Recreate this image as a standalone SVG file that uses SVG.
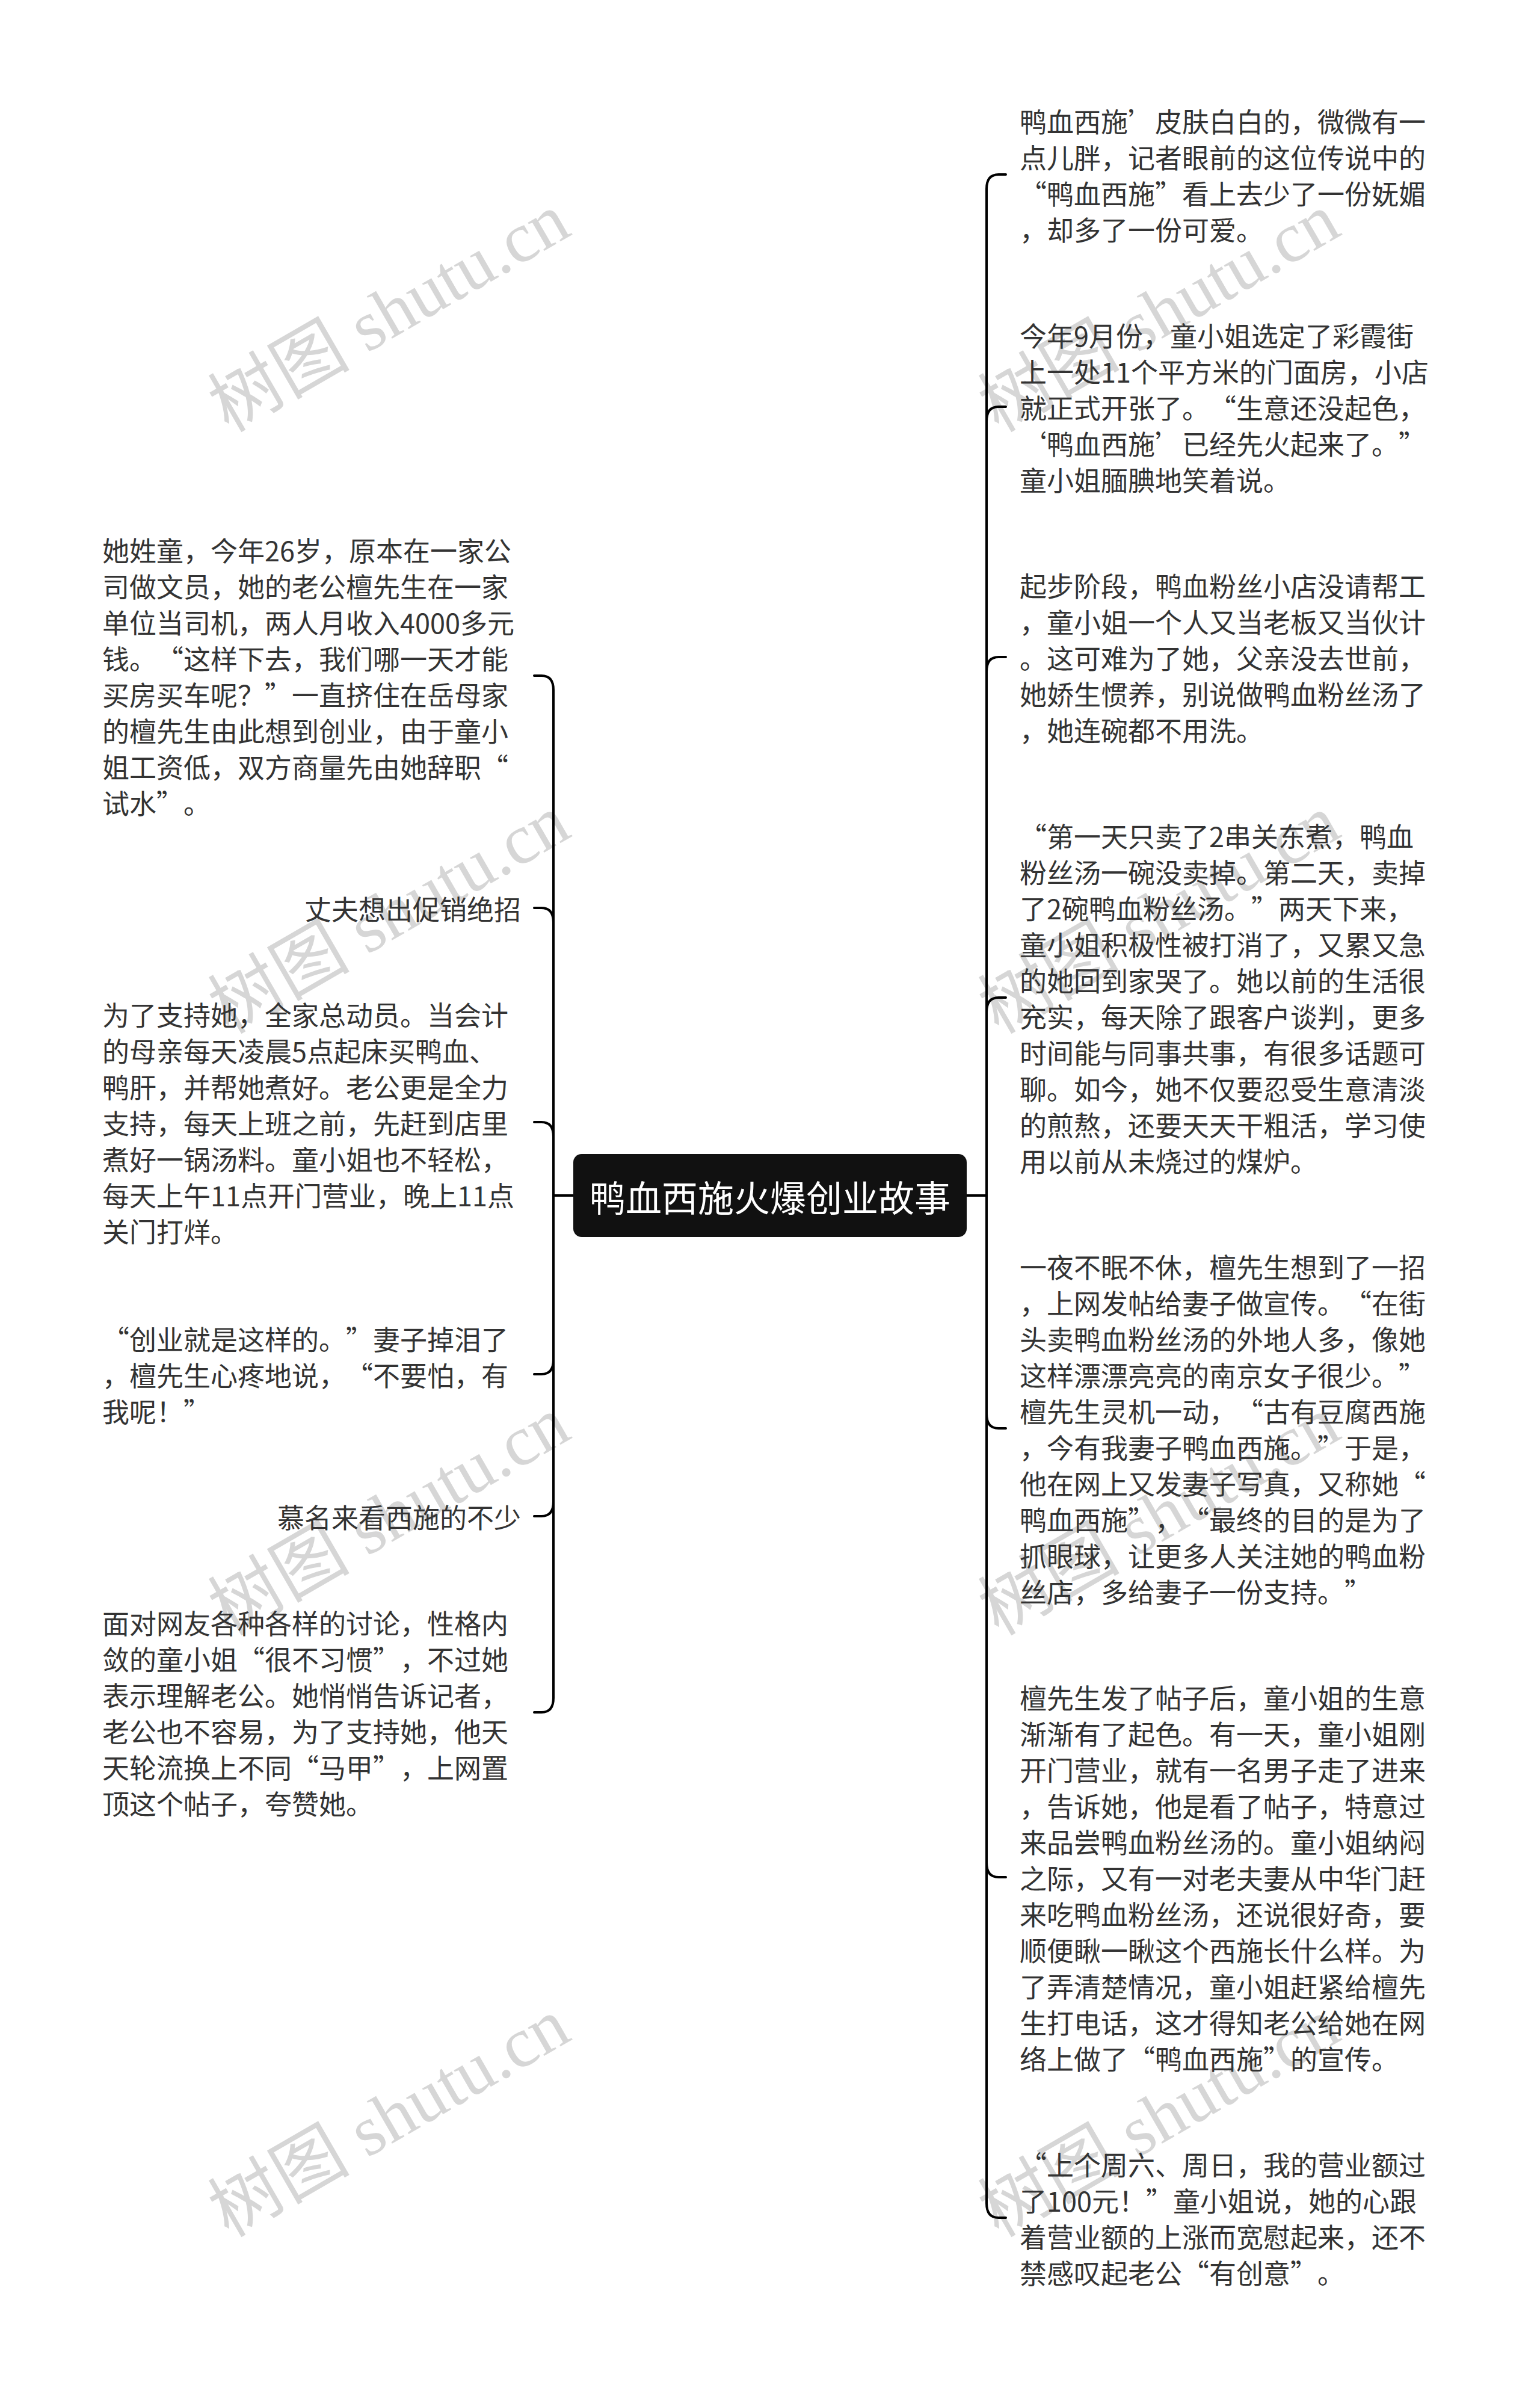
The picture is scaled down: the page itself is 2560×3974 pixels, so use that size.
<svg xmlns="http://www.w3.org/2000/svg" width="2560" height="3974" viewBox="0 0 2560 3974">
<style>
.t{font-family:"Noto Sans CJK SC","Noto Sans",sans-serif;font-size:45px;fill:#333333;dominant-baseline:central;text-spacing-trim:space-all}
.r{text-anchor:end}
.conn{fill:none;stroke:#000000;stroke-width:4;stroke-linecap:round;stroke-linejoin:round}
.wm{font-family:"Liberation Serif","Noto Sans CJK SC",serif;font-size:118px;fill:#d6d6d6}
.root{font-family:"Noto Sans CJK SC","Noto Sans",sans-serif;font-size:60px;fill:#ffffff;text-anchor:middle;dominant-baseline:central}
</style>
<rect width="2560" height="3974" fill="#ffffff"/>
<g id="watermark">
<text class="wm" transform="translate(647,520) rotate(-30)" text-anchor="middle" dominant-baseline="central">树图 shutu.cn</text>
<text class="wm" transform="translate(1927,520) rotate(-30)" text-anchor="middle" dominant-baseline="central">树图 shutu.cn</text>
<text class="wm" transform="translate(647,1520) rotate(-30)" text-anchor="middle" dominant-baseline="central">树图 shutu.cn</text>
<text class="wm" transform="translate(1927,1520) rotate(-30)" text-anchor="middle" dominant-baseline="central">树图 shutu.cn</text>
<text class="wm" transform="translate(647,2520) rotate(-30)" text-anchor="middle" dominant-baseline="central">树图 shutu.cn</text>
<text class="wm" transform="translate(1927,2520) rotate(-30)" text-anchor="middle" dominant-baseline="central">树图 shutu.cn</text>
<text class="wm" transform="translate(647,3520) rotate(-30)" text-anchor="middle" dominant-baseline="central">树图 shutu.cn</text>
<text class="wm" transform="translate(1927,3520) rotate(-30)" text-anchor="middle" dominant-baseline="central">树图 shutu.cn</text>
</g>
<g id="connectors">
<path class="conn" d="M953 1987 H920 V1147 Q920 1123 900 1123 H888"/>
<path class="conn" d="M920 1987 V1533 Q920 1509 900 1509 H888"/>
<path class="conn" d="M920 1987 V1889 Q920 1865 900 1865 H888"/>
<path class="conn" d="M920 1987 V2260 Q920 2284 900 2284 H888"/>
<path class="conn" d="M920 1987 V2496 Q920 2520 900 2520 H888"/>
<path class="conn" d="M920 1987 V2822 Q920 2846 900 2846 H888"/>
<path class="conn" d="M1607 1987 H1640 V314 Q1640 290 1660 290 H1672"/>
<path class="conn" d="M1640 1987 V700 Q1640 676 1660 676 H1672"/>
<path class="conn" d="M1640 1987 V1116 Q1640 1092 1660 1092 H1672"/>
<path class="conn" d="M1640 1987 V1682 Q1640 1658 1660 1658 H1672"/>
<path class="conn" d="M1640 1987 V2350 Q1640 2374 1660 2374 H1672"/>
<path class="conn" d="M1640 1987 V3096 Q1640 3120 1660 3120 H1672"/>
<path class="conn" d="M1640 1987 V3662 Q1640 3686 1660 3686 H1672"/>
</g>
<g id="root">
<rect x="953" y="1918" width="654" height="138" rx="14" fill="#111111"/>
<text class="root" x="1280" y="1987">鸭血西施火爆创业故事</text>
</g>
<g id="r1">
<text class="t" x="1695" y="200">鸭血西施’皮肤白白的，微微有一</text>
<text class="t" x="1695" y="260">点儿胖，记者眼前的这位传说中的</text>
<text class="t" x="1695" y="320">“鸭血西施”看上去少了一份妩媚</text>
<text class="t" x="1695" y="380">，却多了一份可爱。</text>
</g>
<g id="r2">
<text class="t" x="1695" y="556">今年9月份，童小姐选定了彩霞街</text>
<text class="t" x="1695" y="616">上一处11个平方米的门面房，小店</text>
<text class="t" x="1695" y="676">就正式开张了。“生意还没起色，</text>
<text class="t" x="1695" y="736">‘鸭血西施’已经先火起来了。”</text>
<text class="t" x="1695" y="796">童小姐腼腆地笑着说。</text>
</g>
<g id="r3">
<text class="t" x="1695" y="972">起步阶段，鸭血粉丝小店没请帮工</text>
<text class="t" x="1695" y="1032">，童小姐一个人又当老板又当伙计</text>
<text class="t" x="1695" y="1092">。这可难为了她，父亲没去世前，</text>
<text class="t" x="1695" y="1152">她娇生惯养，别说做鸭血粉丝汤了</text>
<text class="t" x="1695" y="1212">，她连碗都不用洗。</text>
</g>
<g id="r4">
<text class="t" x="1695" y="1388">“第一天只卖了2串关东煮，鸭血</text>
<text class="t" x="1695" y="1448">粉丝汤一碗没卖掉。第二天，卖掉</text>
<text class="t" x="1695" y="1508">了2碗鸭血粉丝汤。”两天下来，</text>
<text class="t" x="1695" y="1568">童小姐积极性被打消了，又累又急</text>
<text class="t" x="1695" y="1628">的她回到家哭了。她以前的生活很</text>
<text class="t" x="1695" y="1688">充实，每天除了跟客户谈判，更多</text>
<text class="t" x="1695" y="1748">时间能与同事共事，有很多话题可</text>
<text class="t" x="1695" y="1808">聊。如今，她不仅要忍受生意清淡</text>
<text class="t" x="1695" y="1868">的煎熬，还要天天干粗活，学习使</text>
<text class="t" x="1695" y="1928">用以前从未烧过的煤炉。</text>
</g>
<g id="r5">
<text class="t" x="1695" y="2104">一夜不眠不休，檀先生想到了一招</text>
<text class="t" x="1695" y="2164">，上网发帖给妻子做宣传。“在街</text>
<text class="t" x="1695" y="2224">头卖鸭血粉丝汤的外地人多，像她</text>
<text class="t" x="1695" y="2284">这样漂漂亮亮的南京女子很少。”</text>
<text class="t" x="1695" y="2344">檀先生灵机一动，“古有豆腐西施</text>
<text class="t" x="1695" y="2404">，今有我妻子鸭血西施。”于是，</text>
<text class="t" x="1695" y="2464">他在网上又发妻子写真，又称她“</text>
<text class="t" x="1695" y="2524">鸭血西施”，“最终的目的是为了</text>
<text class="t" x="1695" y="2584">抓眼球，让更多人关注她的鸭血粉</text>
<text class="t" x="1695" y="2644">丝店，多给妻子一份支持。”</text>
</g>
<g id="r6">
<text class="t" x="1695" y="2820">檀先生发了帖子后，童小姐的生意</text>
<text class="t" x="1695" y="2880">渐渐有了起色。有一天，童小姐刚</text>
<text class="t" x="1695" y="2940">开门营业，就有一名男子走了进来</text>
<text class="t" x="1695" y="3000">，告诉她，他是看了帖子，特意过</text>
<text class="t" x="1695" y="3060">来品尝鸭血粉丝汤的。童小姐纳闷</text>
<text class="t" x="1695" y="3120">之际，又有一对老夫妻从中华门赶</text>
<text class="t" x="1695" y="3180">来吃鸭血粉丝汤，还说很好奇，要</text>
<text class="t" x="1695" y="3240">顺便瞅一瞅这个西施长什么样。为</text>
<text class="t" x="1695" y="3300">了弄清楚情况，童小姐赶紧给檀先</text>
<text class="t" x="1695" y="3360">生打电话，这才得知老公给她在网</text>
<text class="t" x="1695" y="3420">络上做了“鸭血西施”的宣传。</text>
</g>
<g id="r7">
<text class="t" x="1695" y="3596">“上个周六、周日，我的营业额过</text>
<text class="t" x="1695" y="3656">了100元！”童小姐说，她的心跟</text>
<text class="t" x="1695" y="3716">着营业额的上涨而宽慰起来，还不</text>
<text class="t" x="1695" y="3776">禁感叹起老公“有创意”。</text>
</g>
<g id="l1">
<text class="t" x="170" y="913">她姓童，今年26岁，原本在一家公</text>
<text class="t" x="170" y="973">司做文员，她的老公檀先生在一家</text>
<text class="t" x="170" y="1033">单位当司机，两人月收入4000多元</text>
<text class="t" x="170" y="1093">钱。“这样下去，我们哪一天才能</text>
<text class="t" x="170" y="1153">买房买车呢？”一直挤住在岳母家</text>
<text class="t" x="170" y="1213">的檀先生由此想到创业，由于童小</text>
<text class="t" x="170" y="1273">姐工资低，双方商量先由她辞职“</text>
<text class="t" x="170" y="1333">试水”。</text>
</g>
<g id="l2">
<text class="t r" x="866" y="1509">丈夫想出促销绝招</text>
</g>
<g id="l3">
<text class="t" x="170" y="1685">为了支持她，全家总动员。当会计</text>
<text class="t" x="170" y="1745">的母亲每天凌晨5点起床买鸭血、</text>
<text class="t" x="170" y="1805">鸭肝，并帮她煮好。老公更是全力</text>
<text class="t" x="170" y="1865">支持，每天上班之前，先赶到店里</text>
<text class="t" x="170" y="1925">煮好一锅汤料。童小姐也不轻松，</text>
<text class="t" x="170" y="1985">每天上午11点开门营业，晚上11点</text>
<text class="t" x="170" y="2045">关门打烊。</text>
</g>
<g id="l4">
<text class="t" x="170" y="2224">“创业就是这样的。”妻子掉泪了</text>
<text class="t" x="170" y="2284">，檀先生心疼地说，“不要怕，有</text>
<text class="t" x="170" y="2344">我呢！”</text>
</g>
<g id="l5">
<text class="t r" x="866" y="2520">慕名来看西施的不少</text>
</g>
<g id="l6">
<text class="t" x="170" y="2696">面对网友各种各样的讨论，性格内</text>
<text class="t" x="170" y="2756">敛的童小姐“很不习惯”，不过她</text>
<text class="t" x="170" y="2816">表示理解老公。她悄悄告诉记者，</text>
<text class="t" x="170" y="2876">老公也不容易，为了支持她，他天</text>
<text class="t" x="170" y="2936">天轮流换上不同“马甲”，上网置</text>
<text class="t" x="170" y="2996">顶这个帖子，夸赞她。</text>
</g>
</svg>
